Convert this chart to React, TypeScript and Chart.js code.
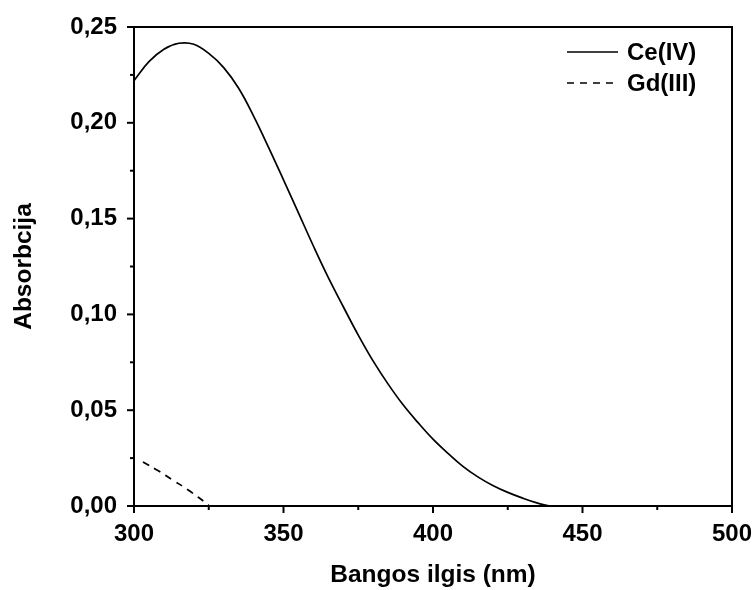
import React, { useEffect, useRef } from "react";
import { Chart, registerables } from "chart.js";

Chart.register(...registerables);

const ceWavelengths = [300, 305, 310, 315, 320, 325, 330, 335, 340, 345, 350, 355, 360, 365, 370, 375, 380, 385, 390, 395, 400, 405, 410, 415, 420, 425, 430, 435, 439];
const ceAbsorbance = [0.222, 0.2319, 0.2384, 0.2415, 0.241, 0.2362, 0.2288, 0.218, 0.2035, 0.1872, 0.1702, 0.153, 0.1357, 0.1192, 0.104, 0.0892, 0.0756, 0.0636, 0.0528, 0.0435, 0.0349, 0.0275, 0.0207, 0.0152, 0.0107, 0.0071, 0.0041, 0.0015, 0];

const gdWavelengths = [303, 308, 313, 318, 325];
const gdAbsorbance = [0.023, 0.0185, 0.0135, 0.0085, 0.0005];

const seriesLabels = ["Ce(IV)", "Gd(III)"];
const xTitle = "Bangos ilgis (nm)";
const yTitle = "Absorbcija";

const FONT = "'Liberation Sans', Arial, sans-serif";

const framePlugin = {
  id: "frame",
  afterDraw(chart: any) {
    const { ctx, chartArea } = chart;
    const { left, right, top, bottom } = chartArea;
    const xs = chart.scales.x;
    const ys = chart.scales.y;
    ctx.save();
    ctx.strokeStyle = "#000";
    ctx.lineWidth = 2;
    ctx.strokeRect(left, top, right - left, bottom - top);
    const yt = ys.ticks.map((t: any) => t.value);
    for (let i = 0; i < yt.length; i++) {
      const py = ys.getPixelForValue(yt[i]);
      ctx.beginPath();
      ctx.moveTo(left, py);
      ctx.lineTo(left - 7, py);
      ctx.stroke();
      if (i < yt.length - 1) {
        const pm = ys.getPixelForValue((yt[i] + yt[i + 1]) / 2);
        ctx.beginPath();
        ctx.moveTo(left, pm);
        ctx.lineTo(left - 4, pm);
        ctx.stroke();
      }
    }
    const xt = xs.ticks.map((t: any) => t.value);
    for (let i = 0; i < xt.length; i++) {
      const px = xs.getPixelForValue(xt[i]);
      ctx.beginPath();
      ctx.moveTo(px, bottom);
      ctx.lineTo(px, bottom + 7);
      ctx.stroke();
      if (i < xt.length - 1) {
        const pm = xs.getPixelForValue((xt[i] + xt[i + 1]) / 2);
        ctx.beginPath();
        ctx.moveTo(pm, bottom);
        ctx.lineTo(pm, bottom + 4);
        ctx.stroke();
      }
    }
    const lx0 = right - 165;
    const lx1 = right - 114;
    const tx = right - 105;
    const rows = [top + 25, top + 56];
    ctx.font = `bold 24px ${FONT}`;
    ctx.fillStyle = "#000";
    ctx.textBaseline = "middle";
    ctx.textAlign = "left";
    rows.forEach((ry, i) => {
      ctx.lineWidth = 1.7;
      ctx.setLineDash(i === 0 ? [] : [7, 6]);
      ctx.beginPath();
      ctx.moveTo(lx0, ry);
      ctx.lineTo(lx1, ry);
      ctx.stroke();
      ctx.setLineDash([]);
      ctx.fillText(seriesLabels[i], tx, ry + 1);
    });
    ctx.restore();
  },
};

export default function App() {
  const ref = useRef<HTMLCanvasElement | null>(null);
  useEffect(() => {
    if (!ref.current) return;
    const chart = new Chart(ref.current, {
      type: "scatter",
      data: {
        datasets: [
          {
            label: seriesLabels[0],
            data: ceWavelengths.map((x, i) => ({ x, y: ceAbsorbance[i] })),
            showLine: true,
            borderColor: "#000",
            borderWidth: 1.7,
            pointRadius: 0,
            tension: 0.4,
            fill: false,
          },
          {
            label: seriesLabels[1],
            data: gdWavelengths.map((x, i) => ({ x, y: gdAbsorbance[i] })),
            showLine: true,
            borderColor: "#000",
            borderWidth: 1.7,
            borderDash: [7, 6],
            pointRadius: 0,
            tension: 0.4,
            fill: false,
          },
        ],
      },
      plugins: [framePlugin],
      options: {
        animation: false,
        responsive: false,
        maintainAspectRatio: false,
        layout: { padding: { top: 27, right: 23, left: 0, bottom: 0 } },
        plugins: { legend: { display: false }, tooltip: { enabled: false } },
        scales: {
          x: {
            type: "linear",
            min: 300,
            max: 500,
            grid: { display: false, drawTicks: false },
            border: { display: false },
            ticks: {
              stepSize: 50,
              color: "#000",
              padding: 14,
              maxRotation: 0,
              font: { family: FONT, size: 24, weight: "bold" },
            },
            title: {
              display: true,
              text: xTitle,
              color: "#000",
              font: { family: FONT, size: 24.5, weight: "bold" },
              padding: { top: 0, bottom: 0 },
            },
            afterFit: (s: any) => {
              s.height = 84;
              s.paddingLeft = 0;
              s.paddingRight = 0;
            },
          },
          y: {
            type: "linear",
            min: 0,
            max: 0.25,
            grid: { display: false, drawTicks: false },
            border: { display: false },
            ticks: {
              stepSize: 0.05,
              color: "#000",
              padding: 17,
              font: { family: FONT, size: 24, weight: "bold" },
              callback: (v: any) => Number(v).toFixed(2).replace(".", ","),
            },
            title: {
              display: true,
              text: yTitle,
              color: "#000",
              font: { family: FONT, size: 24.5, weight: "bold" },
              padding: { top: 10, bottom: 0 },
            },
            afterFit: (s: any) => {
              s.width = 134;
              s.paddingTop = 0;
              s.paddingBottom = 0;
            },
          },
        },
      },
    });
    return () => chart.destroy();
  }, []);
  return (
    <div style={{ position: "fixed", left: 0, top: 0, width: 755, height: 590, background: "#fff" }}>
      <canvas ref={ref} width={755} height={590} style={{ width: 755, height: 590 }} />
    </div>
  );
}
